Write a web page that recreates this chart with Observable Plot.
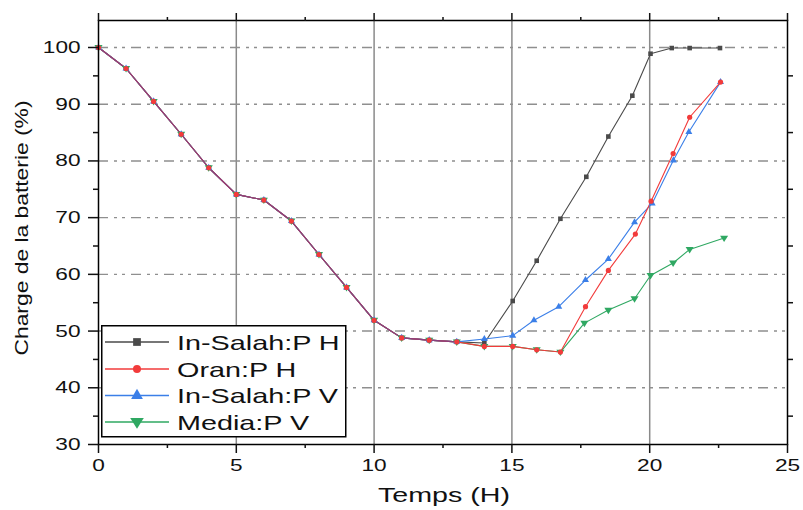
<!DOCTYPE html>
<html><head><meta charset="utf-8">
<script src="https://cdn.jsdelivr.net/npm/d3@7"></script>
<script src="https://cdn.jsdelivr.net/npm/@observablehq/plot@0.6"></script>
<style>
html,body{margin:0;padding:0;background:#fff;}
#wrap{position:relative;width:803px;height:510px;overflow:hidden;}
#wrap svg{position:absolute;left:0;top:0;}
</style></head><body><div id="wrap"></div>
<script>
// ---- data ----
const commonHours  = [0, 1, 2, 3, 4, 5, 6, 7, 8, 9, 10, 11, 12, 13];
const commonCharge = [100, 96.3, 90.5, 84.7, 78.8, 74.1, 73.1, 69.4, 63.5, 57.7, 51.9, 48.8, 48.4, 48.1];

const inSalahPHHours  = [14, 15.03, 15.9, 16.76, 17.7, 18.5, 19.37, 20.03, 20.8, 21.45, 22.55];
const inSalahPHCharge = [47.9, 55.3, 62.4, 69.8, 77.2, 84.3, 91.5, 98.9, 99.9, 99.9, 99.9];
const oranPHHours     = [14, 15.03, 15.9, 16.76, 17.67, 18.5, 19.48, 20.05, 20.85, 21.45, 22.57];
const oranPHCharge    = [47.3, 47.3, 46.7, 46.3, 54.3, 60.7, 67.1, 72.9, 81.3, 87.7, 93.9];
const inSalahPVHours  = [14, 15.03, 15.8, 16.7, 17.67, 18.5, 19.45, 20.09, 20.86, 21.42, 22.57];
const inSalahPVCharge = [48.6, 49.2, 51.9, 54.3, 59.0, 62.7, 69.2, 72.5, 80.1, 85.1, 93.9];
const mediaPVHours    = [14, 15.03, 15.9, 16.76, 17.63, 18.5, 19.45, 20.03, 20.85, 21.45, 22.7];
const mediaPVCharge   = [47.3, 47.3, 46.7, 46.3, 51.4, 53.7, 55.7, 59.8, 62.0, 64.4, 66.4];

const seriesNames  = ["In-Salah:P H", "Oran:P H", "In-Salah:P V", "Media:P V"];
const seriesColors = ["#4a4a4a", "#f23b3b", "#3b7fe8", "#2fa862"];

const xMajor = [0, 5, 10, 15, 20, 25];
const xMinor = [2.5, 7.5, 12.5, 17.5, 22.5];
const xGrid  = [5, 10, 15, 20];
const yMajor = [30, 40, 50, 60, 70, 80, 90, 100];
const yMinor = [35, 45, 55, 65, 75, 85, 95];
const yGrid  = [40, 50, 60, 70, 80, 90, 100];

const xLabel = "Temps (H)";
const yLabel = "Charge de la batterie (%)";

// ---- build tables ----
const tails = [
  [inSalahPHHours, inSalahPHCharge],
  [oranPHHours, oranPHCharge],
  [inSalahPVHours, inSalahPVCharge],
  [mediaPVHours, mediaPVCharge]
];
const series = seriesNames.map((name, i) => {
  const h = commonHours.concat(tails[i][0]);
  const c = commonCharge.concat(tails[i][1]);
  return {name, color: seriesColors[i], data: h.map((t, k) => ({t, v: c[k]}))};
});
const common = commonHours.map((t, k) => ({t, v: commonCharge[k]}));

const triDown = {draw(ctx, size) {
  const r = Math.sqrt(size / 1.3);
  ctx.moveTo(-r, -r * 0.6); ctx.lineTo(r, -r * 0.6); ctx.lineTo(0, r * 1.0); ctx.closePath();
}};
const symbols = [d3.symbolSquare, d3.symbolCircle, d3.symbolTriangle, triDown];

const order = [0, 3, 2, 1];
const lineMarks = order.map(i => Plot.line(series[i].data, {x: "t", y: "v", stroke: series[i].color, strokeWidth: 1.1}));
const dotMarks = order.map(i => Plot.dot(series[i].data, {x: "t", y: "v", fill: series[i].color, symbol: symbols[i], r: 2.6}));

const blank = () => "";
const plot = Plot.plot({
  width: 803, height: 510,
  marginLeft: 98, marginRight: 16, marginTop: 20, marginBottom: 66,
  x: {domain: [0, 25]},
  y: {domain: [30, 104.76]},
  style: {fontFamily: "'Liberation Sans', Arial, sans-serif", fontSize: "17px", color: "#111", background: "transparent"},
  marks: [
    Plot.ruleX(xGrid, {stroke: "#8a8a8a", strokeWidth: 1.5}),
    Plot.ruleY(yGrid, {stroke: "#8f8f8f", strokeWidth: 1.4, strokeDasharray: "10,6,3,5,3,6"}),
    ...lineMarks,
    Plot.line(common, {x: "t", y: "v", stroke: "#8a3f7e", strokeWidth: 1.1}),
    ...dotMarks,
    Plot.frame({stroke: "#000", strokeWidth: 1.5}),
    Plot.axisX({anchor: "bottom", ticks: xMajor, tickSize: 9, tickPadding: 5, label: null, strokeWidth: 1.5}),
    Plot.axisX({anchor: "bottom", ticks: xMinor, tickSize: 4, tickFormat: blank, label: null, strokeWidth: 1.5}),
    Plot.axisX({anchor: "top", ticks: xMajor, tickSize: 8, tickFormat: blank, label: null, strokeWidth: 1.5}),
    Plot.axisX({anchor: "top", ticks: xMinor, tickSize: 4, tickFormat: blank, label: null, strokeWidth: 1.5}),
    Plot.axisY({anchor: "left", ticks: yMajor, tickSize: 10, tickPadding: 8, label: null, strokeWidth: 1.5}),
    Plot.axisY({anchor: "left", ticks: yMinor, tickSize: 5, tickFormat: blank, label: null, strokeWidth: 1.5}),
    Plot.axisY({anchor: "right", ticks: yMinor, tickSize: 5, tickFormat: blank, label: null, strokeWidth: 1.5})
  ]
});
const wrap = document.getElementById("wrap");
wrap.appendChild(plot);

// widen tick labels like the reference (wide glyphs)
d3.select(plot).selectAll("text").each(function() {
  const L = this.getComputedTextLength();
  if (L > 0) { this.setAttribute("textLength", (L * 1.33).toFixed(1)); this.setAttribute("lengthAdjust", "spacingAndGlyphs"); }
});

const svg = d3.select(plot);
svg.append("text").attr("x", 444).attr("y", 502).attr("text-anchor", "middle")
  .attr("font-size", 21).attr("fill", "#111").attr("textLength", 132).attr("lengthAdjust", "spacingAndGlyphs").text(xLabel);
svg.append("text").attr("transform", "translate(28,228) rotate(-90)").attr("text-anchor", "middle")
  .attr("font-size", 19).attr("fill", "#111").attr("textLength", 255).attr("lengthAdjust", "spacingAndGlyphs").text(yLabel);

// legend overlay
const leg = d3.select(wrap).append("svg")
  .attr("width", 250).attr("height", 116)
  .style("left", "99px").style("top", "323px")
  .style("font-family", "'Liberation Sans', Arial, sans-serif");
leg.append("rect").attr("x", 2.75).attr("y", 2.75).attr("width", 244).attr("height", 111)
  .attr("fill", "#fff").attr("stroke", "#000").attr("stroke-width", 1.5);
const rowY = [19, 46, 72.5, 99];
series.forEach((s, i) => {
  const g = leg.append("g").attr("transform", `translate(0,${rowY[i]})`);
  g.append("line").attr("x1", 6).attr("x2", 70).attr("stroke", s.color).attr("stroke-width", 1.6);
  g.append("path").attr("transform", "translate(38,0)").attr("fill", s.color)
    .attr("d", d3.symbol(symbols[i], i === 1 ? 50 : 60)());
  const t = g.append("text").attr("x", 78).attr("dy", "0.36em").attr("font-size", 21).attr("fill", "#111").text(s.name);
  const L = t.node().getComputedTextLength();
  t.attr("textLength", (L * 1.37).toFixed(1)).attr("lengthAdjust", "spacingAndGlyphs");
});
</script>
</body></html>
